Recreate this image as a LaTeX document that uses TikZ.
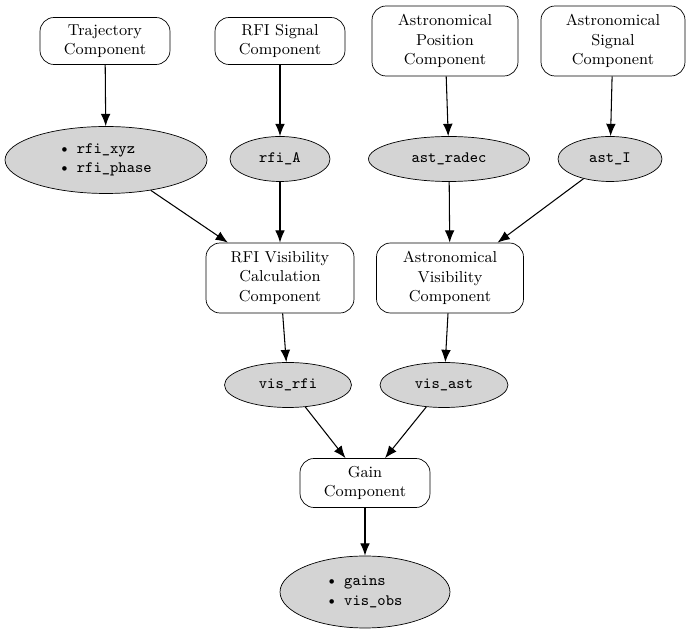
\documentclass[tikz,border=0pt]{standalone}
\usetikzlibrary{shapes.geometric,arrows.meta}
\begin{document}
\begin{tikzpicture}[
    x=0.02cm, y=-0.02cm,
    comp/.style={
        rectangle,
        rounded corners=8pt,
        draw=black,
        fill=white,
        font=\small,
        align=center,
        inner sep=2pt
    },
    data/.style={
        ellipse,
        draw=black,
        fill=black!17,
        font=\small\ttfamily,
        align=left,
        inner sep=1pt
    },
    flow/.style={
        -{Latex[length=7pt,width=5.5pt]},
        semithick
    }
]
\useasboundingbox (0,0) rectangle (694,634);

\node[comp, minimum width=2.6cm, minimum height=0.94cm] (traj) at (105,41) {Trajectory\\Component};
\node[comp, minimum width=2.6cm, minimum height=0.94cm] (rfisig) at (280,41) {RFI Signal\\Component};
\node[comp, minimum width=2.92cm, minimum height=1.4cm] (astpos) at (445,41) {Astronomical\\Position\\Component};
\node[comp, minimum width=2.88cm, minimum height=1.4cm] (astsig) at (613,41) {Astronomical\\Signal\\Component};

\node[data, minimum width=4.04cm, minimum height=1.34cm] (rfixyz) at (106,160) {\textbullet\ rfi\_xyz\\\textbullet\ rfi\_phase};
\node[data, minimum width=2cm, minimum height=0.9cm] (rfiA) at (280,159) {rfi\_A};
\node[data, minimum width=3.22cm, minimum height=0.9cm] (astradec) at (449,159) {ast\_radec};
\node[data, minimum width=2.08cm, minimum height=0.9cm] (astI) at (610,159) {ast\_I};

\node[comp, minimum width=2.96cm, minimum height=1.4cm] (rfivis) at (280,278) {RFI Visibility\\Calculation\\Component};
\node[comp, minimum width=2.94cm, minimum height=1.4cm] (astvis) at (450,278) {Astronomical\\Visibility\\Component};

\node[data, minimum width=2.54cm, minimum height=0.9cm] (visrfi) at (288,385) {vis\_rfi};
\node[data, minimum width=2.56cm, minimum height=0.9cm] (visast) at (444,385) {vis\_ast};

\node[comp, minimum width=2.6cm, minimum height=0.98cm] (gain) at (365,483) {Gain\\Component};

\node[data, minimum width=3.4cm, minimum height=1.44cm] (out) at (365,592) {\textbullet\ gains\\\textbullet\ vis\_obs};

\draw[flow] (traj) -- (rfixyz);
\draw[flow] (rfisig) -- (rfiA);
\draw[flow] (astpos) -- (astradec);
\draw[flow] (astsig) -- (astI);
\draw[flow] (rfixyz) -- (rfivis);
\draw[flow] (rfiA) -- (rfivis);
\draw[flow] (astradec) -- (astvis);
\draw[flow] (astI) -- (astvis);
\draw[flow] (rfivis) -- (visrfi);
\draw[flow] (astvis) -- (visast);
\draw[flow] (visrfi) -- (gain);
\draw[flow] (visast) -- (gain);
\draw[flow] (gain) -- (out);

\end{tikzpicture}
\end{document}
